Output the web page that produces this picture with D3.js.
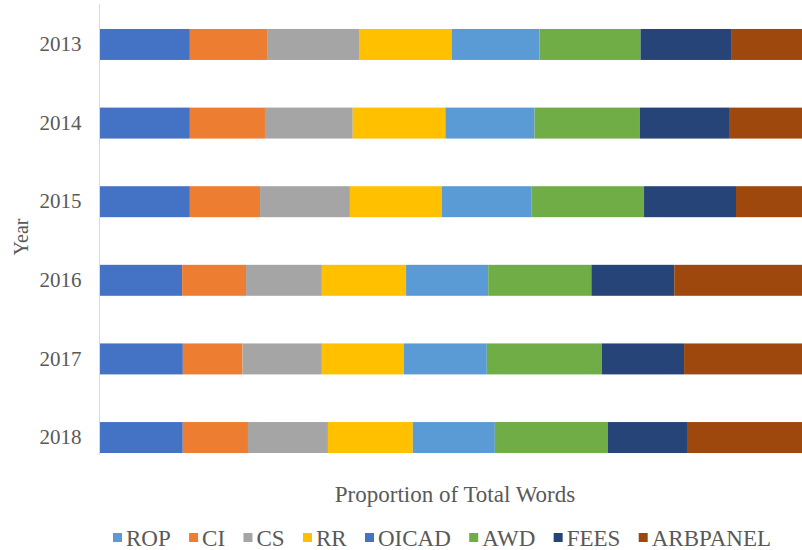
<!DOCTYPE html>
<html>
<head>
<meta charset="utf-8" />
<title>Proportion of total words by year</title>
<script src="https://d3js.org/d3.v7.min.js"></script>
<style>
  body { margin: 0; background: #fff; }
</style>
</head>
<body>
<svg id="chart" width="802" height="550"></svg>
<script>
// years shown top to bottom
var years = ["2013", "2014", "2015", "2016", "2017", "2018"];
var series = ["ROP", "CI", "CS", "RR", "OICAD", "AWD", "FEES", "ARBPANEL"];

// percent of total words (one value per year)
var ROP      = [12.8, 12.8, 12.8, 11.7, 11.8, 11.8];
var CI       = [11.0, 10.7, 10.0,  9.1,  8.5,  9.3];
var CS       = [13.1, 12.5, 12.8, 10.8, 11.3, 11.4];
var RR       = [13.2, 13.2, 13.1, 12.0, 11.7, 12.1];
var OICAD    = [12.5, 12.7, 12.8, 11.7, 11.8, 11.7];
var AWD      = [14.4, 15.0, 16.0, 14.7, 16.4, 16.1];
var FEES     = [13.0, 12.7, 13.1, 11.8, 11.7, 11.3];
var ARBPANEL = [10.0, 10.4,  9.4, 18.2, 16.8, 16.4];

var barColors    = ["#4472C4", "#ED7D31", "#A5A5A5", "#FFC000", "#5B9BD5", "#70AD47", "#264478", "#9E480E"];
// the legend keys in the source have ROP and OICAD swapped
var legendColors = ["#5B9BD5", "#ED7D31", "#A5A5A5", "#FFC000", "#4472C4", "#70AD47", "#264478", "#9E480E"];

var FONT = "'Liberation Serif', 'Times New Roman', serif";
var TEXT = "#595959";

var cols = [ROP, CI, CS, RR, OICAD, AWD, FEES, ARBPANEL];
var rows = years.map(function(y, i) {
  var r = { year: y };
  series.forEach(function(s, j) { r[s] = cols[j][i]; });
  return r;
});

var svg = d3.select("#chart");

var x = d3.scaleLinear().domain([0, 1]).range([100, 802]);
var y = d3.scaleBand().domain(years).range([5, 477]).paddingInner(0.606).paddingOuter(0.305);
var color = d3.scaleOrdinal().domain(series).range(barColors);

var layers = d3.stack().keys(series).offset(d3.stackOffsetExpand)(rows);

svg.append("g").selectAll("g")
  .data(layers)
  .join("g")
  .attr("fill", function(d) { return color(d.key); })
  .selectAll("rect")
  .data(function(d) { return d; })
  .join("rect")
  .attr("x", function(d) { return x(d[0]); })
  .attr("width", function(d) { return x(d[1]) - x(d[0]); })
  .attr("y", function(d) { return y(d.data.year); })
  .attr("height", y.bandwidth());

// vertical axis line + year labels
var yAxis = svg.append("g")
  .attr("transform", "translate(99.5,0)")
  .call(d3.axisLeft(y).tickSize(0).tickPadding(18));
yAxis.select(".domain").attr("d", "M0,4V455").attr("stroke", "#d9d9d9");
yAxis.selectAll("text")
  .style("font-family", FONT)
  .style("font-size", "21px")
  .style("fill", TEXT);

svg.append("text")
  .attr("transform", "translate(28,237) rotate(-90)")
  .attr("text-anchor", "middle")
  .style("font-family", FONT)
  .style("font-size", "20px")
  .style("fill", TEXT)
  .text("Year");

svg.append("text")
  .attr("x", 455)
  .attr("y", 502)
  .attr("text-anchor", "middle")
  .style("font-family", FONT)
  .style("font-size", "23px")
  .style("fill", TEXT)
  .text("Proportion of Total Words");

// legend, spread between x=113 and x=771
var legend = svg.append("g");
var items = series.map(function(s, i) {
  var g = legend.append("g");
  g.append("rect").attr("x", 0).attr("y", 533).attr("width", 9).attr("height", 9)
    .attr("fill", legendColors[i]);
  var t = g.append("text").attr("x", 13).attr("y", 546)
    .style("font-family", FONT)
    .style("font-size", "23px")
    .style("fill", TEXT)
    .text(s);
  return { g: g, w: 13 + t.node().getComputedTextLength() };
});
var total = d3.sum(items, function(d) { return d.w; });
var gap = (771 - 113 - total) / (items.length - 1);
var lx = 113;
items.forEach(function(d) {
  d.g.attr("transform", "translate(" + lx + ",0)");
  lx += d.w + gap;
});
</script>
</body>
</html>
